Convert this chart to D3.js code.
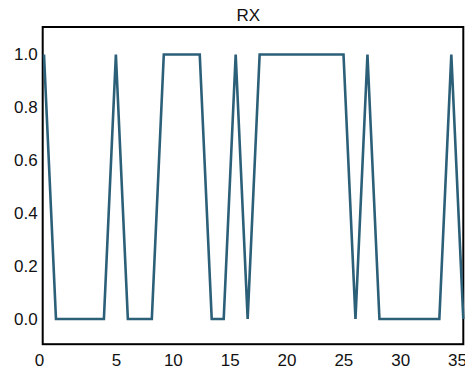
<!DOCTYPE html>
<html lang="en">

<head>
  <meta charset="UTF-8" />
  <script src="https://unpkg.com/d3@7/dist/d3.min.js"></script>
  <title>RX</title>
  <style>
    body { margin: 0; background: #fff; }
    text { font-family: "Liberation Sans", Arial, sans-serif; }
  </style>
</head>

<body>
  <svg width="465" height="369"></svg>
  <script>
    // samples 0..35, RX state per sample
    const sampleIndex = d3.range(0, 36);
    const rxValues = [
      1, 0, 0, 0, 0, 0, 1, 0, 0, 0,
      1, 1, 1, 1, 0, 0, 1, 0, 1, 1,
      1, 1, 1, 1, 1, 1, 0, 1, 0, 0,
      0, 0, 0, 0, 1, 0
    ];
    const xTickLabels = [0, 5, 10, 15, 20, 25, 30, 35];
    const yTickLabels = [0, 0.2, 0.4, 0.6, 0.8, 1.0];
    const title = "RX";

    const svg = d3.select("svg");
    const fontSize = 17;

    const frame = { left: 42.7, right: 463.3, top: 27, bottom: 344.2 };

    const data = sampleIndex.map((d, i) => ({ x: d, y: rxValues[i] }));

    // data space -> screen space
    const xScale = d3.scaleLinear()
      .domain([0, 35])
      .range([44, 463.3]);
    const yScale = d3.scaleLinear()
      .domain([-0.1, 1.1])
      .range([345.5, 28]);
    // the labels under the plot sit a bit off the samples
    const xLabelScale = d3.scaleLinear()
      .domain([0, 5, 35])
      .range([39, 116, 457]);

    // frame
    svg.append("rect")
      .attr("x", frame.left)
      .attr("y", frame.top)
      .attr("width", frame.right - frame.left)
      .attr("height", frame.bottom - frame.top)
      .attr("fill", "none")
      .attr("stroke", "#000")
      .attr("stroke-width", 2);

    const line = d3.line()
      .x(d => xScale(d.x))
      .y(d => yScale(d.y));

    svg.append("path")
      .datum(data)
      .attr("d", line)
      .attr("fill", "none")
      .attr("stroke", "#2c5f78")
      .attr("stroke-width", 2.6)
      .attr("stroke-linejoin", "miter");

    const yAxis = svg.append("g")
      .attr("transform", `translate(${frame.left},0)`)
      .call(d3.axisLeft(yScale)
        .tickValues(yTickLabels)
        .tickFormat(d3.format(".1f"))
        .tickSize(0)
        .tickPadding(5));
    yAxis.select(".domain").remove();
    yAxis.selectAll("text")
      .attr("font-size", fontSize)
      .attr("font-family", null)
      .attr("fill", "#111");

    const xAxis = svg.append("g")
      .attr("transform", `translate(0,${frame.bottom})`)
      .call(d3.axisBottom(xLabelScale)
        .tickValues(xTickLabels)
        .tickFormat(d3.format("d"))
        .tickSize(0)
        .tickPadding(10));
    xAxis.select(".domain").remove();
    xAxis.selectAll("text")
      .attr("font-size", fontSize)
      .attr("font-family", null)
      .attr("fill", "#111");

    svg.append("text")
      .attr("x", 248.3)
      .attr("y", 20.5)
      .attr("text-anchor", "middle")
      .attr("font-size", fontSize)
      .attr("fill", "#111")
      .text(title);
  </script>
</body>

</html>
